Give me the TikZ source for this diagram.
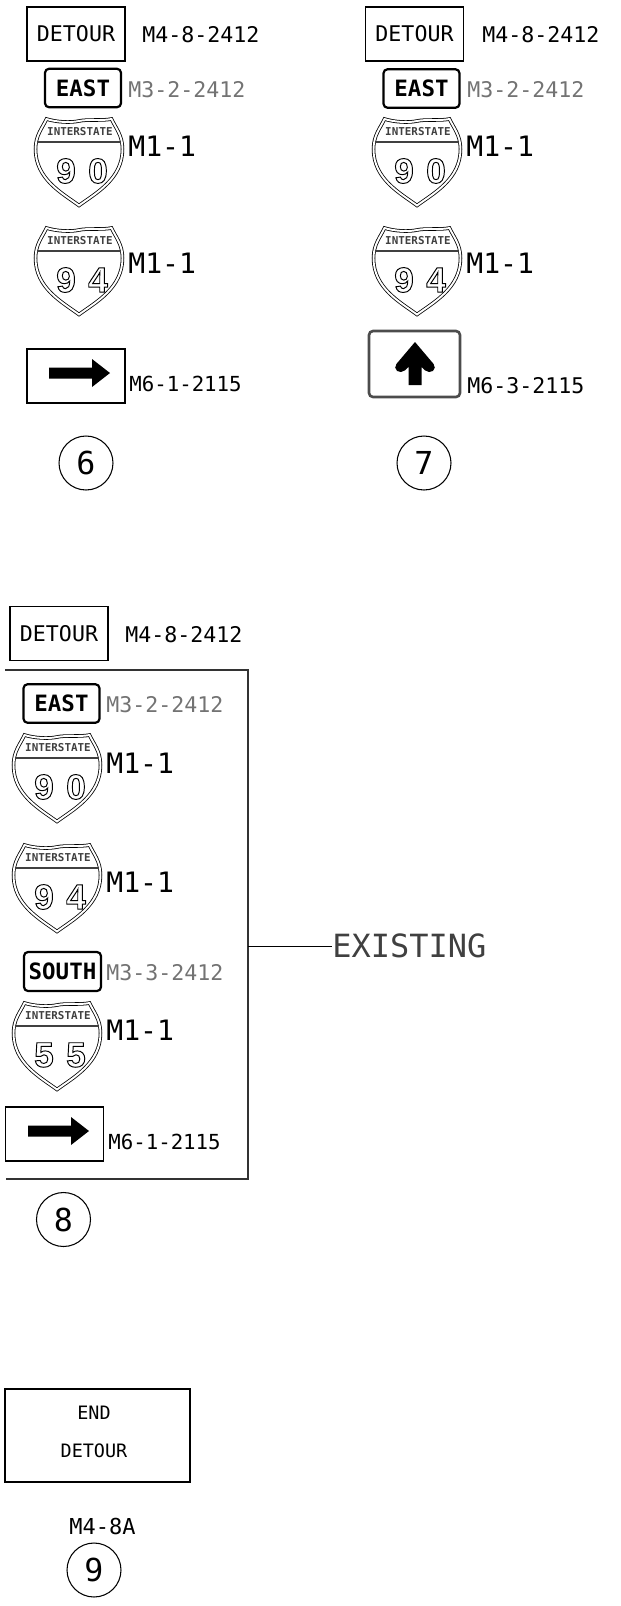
\documentclass[tikz,border=0pt]{standalone}
\usepackage{fontspec}
\usepackage{xcolor}
\setmonofont{DejaVu Sans Mono}
\newfontfamily\shieldfont{Liberation Sans}
\newcommand{\hollow}[1]{\special{pdf:literal direct 1 Tr 0.55 w}#1\special{pdf:literal direct 0 Tr}}
\tikzset{
	every node/.style={font=\ttfamily},
	plain/.style={inner sep=0pt,anchor=west,font=\fontsize{11.8}{12}\ttfamily},
	wide label/.style={inner sep=0pt,anchor=west,font=\fontsize{12.3}{12}\ttfamily},
	thin label/.style={wide label,text=black!55},
	big/.style={inner sep=0pt,anchor=west,font=\fontsize{16}{16}\ttfamily},
	detourbox/.style={shape=rectangle,draw=black,line width=0.8pt,inner sep=0pt,minimum width=1.96cm,minimum height=1.08cm,font=\fontsize{12.3}{12}\ttfamily},
	routebox/.style={shape=rectangle,draw=black,line width=1.25pt,rounded corners=0.08cm,inner sep=0pt,minimum width=1.52cm,minimum height=0.77cm,font=\fontsize{12.8}{12.5}\ttfamily\bfseries},
	number/.style={shape=circle,draw=black,line width=0.6pt,inner sep=0pt,minimum size=1.08cm,font=\fontsize{18}{18}\ttfamily},
	pics/shield/.style 2 args={code={
		\draw[line width=0.45pt,double=white,double distance=1.1pt] (12.5,2) .. controls (22,5) and (36,6) .. (45,4) .. controls (54,2) and (68,4) .. (77.5,2) .. controls (81,10) and (88.5,18) .. (88.5,32) .. controls (88.5,62) and (62,76) .. (45,88.5) .. controls (28,76) and (1.5,62) .. (1.5,32) .. controls (1.5,18) and (9,10) .. (12.5,2) -- cycle;
		\draw[line width=1pt,black!75] (3,25) -- (87,25);
		\node[inner sep=0pt,font=\fontsize{6.2}{6.2}\ttfamily\bfseries,text=black!75] (-top) at (46,15) {INTERSTATE};
		\node[inner sep=0pt,font=\fontsize{20}{20}\shieldfont\bfseries] (-left) at (32,54) {\hollow{#1}};
		\node[inner sep=0pt,font=\fontsize{20}{20}\shieldfont\bfseries] (-right) at (64,54) {\hollow{#2}};
	}},
	pics/rightarrow/.style={code={
		\fill[black] (0,-5.5) -- (43,-5.5) -- (43,-14) -- (61,0) -- (43,14) -- (43,5.5) -- (0,5.5) -- cycle;
	}}
}
\begin{document}
\begin{tikzpicture}[x=0.02cm,y=-0.02cm]
	\useasboundingbox (0,0) rectangle (620,1606);
	\node[detourbox] (detourA) at (76,34) {DETOUR};
	\node[wide label] (detourAlab) at (142,35) {M4-8-2412};
	\node[routebox] (eastA) at (83,88) {EAST};
	\node[thin label] (eastAlab) at (128,90) {M3-2-2412};
	\pic (shieldAa) at (34,117) {shield={9}{0}};
	\node[big] (shieldAalab) at (128,146) {M1-1};
	\pic (shieldAb) at (34,226) {shield={9}{4}};
	\node[big] (shieldAblab) at (128,263) {M1-1};
	\node[detourbox] (arrowA) at (76,376) {};
	\pic (arrowAin) at (49,373) {rightarrow};
	\node[plain] (arrowAlab) at (129,384) {M6-1-2115};
	\node[number] (six) at (86,463) {6};

	\node[detourbox] (detourB) at (414.5,34) {DETOUR};
	\node[wide label] (detourBlab) at (482,35) {M4-8-2412};
	\node[routebox] (eastB) at (421.5,88.5) {EAST};
	\node[thin label] (eastBlab) at (467,90) {M3-2-2412};
	\pic (shieldBa) at (372,117) {shield={9}{0}};
	\node[big] (shieldBalab) at (466,146) {M1-1};
	\pic (shieldBb) at (372,226) {shield={9}{4}};
	\node[big] (shieldBblab) at (466,263) {M1-1};
	\node[shape=rectangle,draw=black!70,line width=1.5pt,rounded corners=0.08cm,minimum width=1.82cm,minimum height=1.32cm] (arrowB) at (414.5,364) {};
	\fill[black] (415,342) [rounded corners=3] -- (437,368) -- (429,374) [sharp corners] -- (421.5,367) -- (421.5,385) -- (408.5,385) -- (408.5,367) [rounded corners=3] -- (401,374) -- (393,368) [sharp corners] -- cycle;
	\node[wide label] (arrowBlab) at (467,386) {M6-3-2115};
	\node[number] (seven) at (424,463) {7};

	\node[detourbox] (detourC) at (59,633.5) {DETOUR};
	\node[wide label] (detourClab) at (125,635) {M4-8-2412};
	\coordinate (frameTL) at (5,670);
	\coordinate (frameBL) at (6,1179);
	\coordinate (frameR) at (248,946);
	\draw[line width=0.6pt,black!80] (frameTL) -| (frameR) |- (frameBL);
	\node[routebox] (eastC) at (61.5,703.5) {EAST};
	\node[thin label] (eastClab) at (106,705) {M3-2-2412};
	\pic (shieldCa) at (12,733) {shield={9}{0}};
	\node[big] (shieldCalab) at (106,763) {M1-1};
	\pic (shieldCb) at (12,843) {shield={9}{4}};
	\node[big] (shieldCblab) at (106,882) {M1-1};
	\node[routebox,minimum width=1.54cm,minimum height=0.78cm] (southC) at (62.5,971.5) {SOUTH};
	\node[thin label] (southClab) at (106,973) {M3-3-2412};
	\pic (shieldCc) at (12,1001) {shield={5}{5}};
	\node[big] (shieldCclab) at (106,1030) {M1-1};
	\node[detourbox] (arrowC) at (54.5,1134) {};
	\pic (arrowCin) at (28,1131) {rightarrow};
	\node[plain] (arrowClab) at (108,1142) {M6-1-2115};
	\node[number] (eight) at (63.5,1219.5) {8};
	\node[inner sep=0pt,anchor=west,text=black!75,font=\fontsize{18.2}{18}\ttfamily] (existing) at (332,946) {EXISTING};
	\path[-] (frameR) edge[line width=0.5pt] (existing.west);

	\node[shape=rectangle,draw=black,line width=0.8pt,inner sep=0pt,minimum width=3.7cm,minimum height=1.86cm] (endbox) at (97.5,1435.5) {};
	\node[inner sep=0pt,font=\fontsize{10.5}{12}\ttfamily] (endtext) at (94,1413) {END};
	\node[inner sep=0pt,font=\fontsize{10.5}{12}\ttfamily] (detourD) at (94,1451) {DETOUR};
	\node[inner sep=0pt,font=\fontsize{12.5}{12.5}\ttfamily] (endlab) at (102.5,1526) {M4-8A};
	\node[number] (nine) at (94,1570) {9};
\end{tikzpicture}
\end{document}
